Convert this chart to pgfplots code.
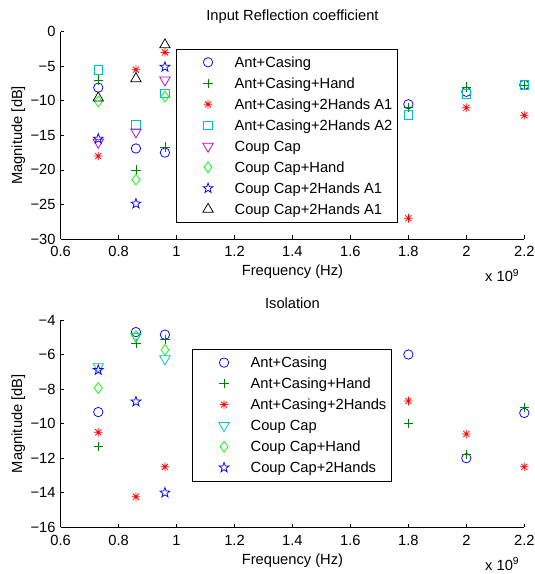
\documentclass[border=0pt]{standalone}
\usepackage{fontspec}
\setmainfont{Liberation Sans}
\usepackage{pgfplots}
\pgfplotsset{compat=1.18}
\definecolor{mblue}{rgb}{0,0,1}
\definecolor{mgreen}{rgb}{0,0.5,0}
\definecolor{mred}{rgb}{1,0,0}
\definecolor{mcyan}{rgb}{0,0.75,0.75}
\definecolor{mmag}{rgb}{0.75,0,0.75}
\definecolor{mlime}{rgb}{0,1,0}
\pgfdeclareplotmark{mstar}{%
  \pgfpathmoveto{\pgfqpoint{\pgfplotmarksize}{0pt}}\pgfpathlineto{\pgfqpoint{-\pgfplotmarksize}{0pt}}%
  \pgfpathmoveto{\pgfqpoint{0pt}{\pgfplotmarksize}}\pgfpathlineto{\pgfqpoint{0pt}{-\pgfplotmarksize}}%
  \pgfpathmoveto{\pgfqpointpolar{45}{\pgfplotmarksize}}\pgfpathlineto{\pgfqpointpolar{225}{\pgfplotmarksize}}%
  \pgfpathmoveto{\pgfqpointpolar{135}{\pgfplotmarksize}}\pgfpathlineto{\pgfqpointpolar{315}{\pgfplotmarksize}}%
  \pgfusepathqstroke}
\pgfdeclareplotmark{pent}{%
  \pgfpathmoveto{\pgfqpointpolar{90}{\pgfplotmarksize}}%
  \pgfpathlineto{\pgfqpointpolar{126}{0.4\pgfplotmarksize}}%
  \pgfpathlineto{\pgfqpointpolar{162}{\pgfplotmarksize}}%
  \pgfpathlineto{\pgfqpointpolar{198}{0.4\pgfplotmarksize}}%
  \pgfpathlineto{\pgfqpointpolar{234}{\pgfplotmarksize}}%
  \pgfpathlineto{\pgfqpointpolar{270}{0.4\pgfplotmarksize}}%
  \pgfpathlineto{\pgfqpointpolar{306}{\pgfplotmarksize}}%
  \pgfpathlineto{\pgfqpointpolar{342}{0.4\pgfplotmarksize}}%
  \pgfpathlineto{\pgfqpointpolar{18}{\pgfplotmarksize}}%
  \pgfpathlineto{\pgfqpointpolar{54}{0.4\pgfplotmarksize}}%
  \pgfpathclose\pgfusepathqstroke}
\pgfplotsset{
  mstyle/.style={
    scale only axis, width=463.7bp, height=207.3bp,
    axis x line=bottom, axis y line=left, axis line style={-, line width=0.7bp},
    tick align=inside, major tick length=3.5bp, tick style={line width=0.6bp, black},
    xmin=0.6, xmax=2.2,
    xtick={0.6,0.8,1,1.2,1.4,1.6,1.8,2,2.2},
    xticklabels={0.6,0.8,1,1.2,1.4,1.6,1.8,2,2.2},
    xticklabel style={anchor=base, yshift=-17.7bp},
    clip=false,
    every axis plot/.append style={only marks, line width=0.75bp},
    every axis title/.style={at={(rel axis cs:0.5,1)}, anchor=base, yshift=11.3bp},
    every axis x label/.style={at={(rel axis cs:0.5,0)}, anchor=base, yshift=-37bp},
    every axis y label/.style={at={(rel axis cs:0,0.5)}, xshift=-38.6bp, rotate=90, anchor=base},
    xlabel={Frequency (Hz)}, ylabel={Magnitude [dB]},
    legend cell align=left,
    legend image code/.code={\path[draw=none, fill=none] (-29.7bp,0bp) -- (20bp,0bp); \draw[##1] plot coordinates {(0bp,0bp)};},
    legend style={draw=black, line width=0.7bp, fill=white, inner xsep=2bp, inner ysep=6bp,
      row sep=6.5bp, column sep=3.3bp,
      nodes={inner xsep=3.3bp, inner ysep=0bp, text height=12.5bp, text depth=2bp}},
    after end axis/.code={\node[anchor=base east] at (rel axis cs:1,0) [yshift=-42.7bp] {x 10\textsuperscript{9}};},
  },
  sAC/.style={mark=o, mblue, mark size=4.7bp},
  sACH/.style={mark=+, mgreen, mark size=4.6bp},
  sAC2/.style={mark=mstar, mred, mark size=4.3bp},
  sAC2B/.style={mark=square, mcyan, mark size=4.3bp},
  sCC/.style={mark=triangle, mark options={rotate=180}, mark size=6bp},
  sCCH/.style={mark=diamond, mlime, mark size=5.3bp},
  sCC2/.style={mark=pent, mblue, mark size=5.2bp},
  sCC2B/.style={mark=triangle, black, mark size=6bp},
}
\begin{document}
\fontsize{14.7bp}{17.6bp}\selectfont
\begin{tikzpicture}
\useasboundingbox (0,0) rectangle (535bp,574bp);
\begin{axis}[mstyle, at={(60.6bp,335bp)}, anchor=south west,
  ymin=-30, ymax=0, ytick={-30,-25,-20,-15,-10,-5,0},
  yticklabels={−30,−25,−20,−15,−10,−5,0},
  title={Input Reflection coefficient},
  legend style={at={(0.2489,0.918)}, anchor=north west}]
\addplot[sAC] coordinates {(0.73,-8.1)(0.86,-16.9)(0.96,-17.5)(1.8,-10.5)(2.0,-8.7)(2.2,-7.7)};
\addlegendentry{Ant+Casing}
\addplot[sACH] coordinates {(0.73,-7.0)(0.86,-20.0)(0.96,-16.7)(1.8,-11.0)(2.0,-8.0)(2.2,-7.7)};
\addlegendentry{Ant+Casing+Hand}
\addplot[sAC2] coordinates {(0.73,-18.0)(0.86,-5.5)(0.96,-3.0)(1.8,-27.0)(2.0,-11.0)(2.2,-12.1)};
\addlegendentry{Ant+Casing+2Hands A1}
\addplot[sAC2B] coordinates {(0.73,-5.5)(0.86,-13.5)(0.96,-8.9)(1.8,-12.0)(2.0,-9.0)(2.2,-7.7)};
\addlegendentry{Ant+Casing+2Hands A2}
\addplot[sCC, mmag] coordinates {(0.73,-16.0)(0.86,-14.5)(0.96,-7.0)};
\addlegendentry{Coup Cap}
\addplot[sCCH] coordinates {(0.73,-10.1)(0.86,-21.4)(0.96,-9.4)};
\addlegendentry{Coup Cap+Hand}
\addplot[sCC2] coordinates {(0.73,-15.5)(0.86,-24.9)(0.96,-5.1)};
\addlegendentry{Coup Cap+2Hands A1}
\addplot[sCC2B] coordinates {(0.73,-9.6)(0.86,-6.8)(0.96,-1.9)};
\addlegendentry{Coup Cap+2Hands A1}
\end{axis}
\begin{axis}[mstyle, at={(60.6bp,46.7bp)}, anchor=south west,
  ymin=-16, ymax=-4, ytick={-16,-14,-12,-10,-8,-6,-4},
  yticklabels={−16,−14,−12,−10,−8,−6,−4},
  title={Isolation},
  legend style={at={(0.2834,0.860)}, anchor=north west}]
\addplot[sAC] coordinates {(0.73,-9.33)(0.86,-4.7)(0.96,-4.85)(1.8,-6.0)(2.0,-12.0)(2.2,-9.38)};
\addlegendentry{Ant+Casing}
\addplot[sACH] coordinates {(0.73,-11.3)(0.86,-5.35)(0.96,-5.15)(1.8,-10.0)(2.0,-11.77)(2.2,-9.08)};
\addlegendentry{Ant+Casing+Hand}
\addplot[sAC2] coordinates {(0.73,-10.5)(0.86,-14.23)(0.96,-12.5)(1.8,-8.69)(2.0,-10.6)(2.2,-12.5)};
\addlegendentry{Ant+Casing+2Hands}
\addplot[sCC, mcyan] coordinates {(0.73,-6.7)(0.86,-4.95)(0.96,-6.25)};
\addlegendentry{Coup Cap}
\addplot[sCCH] coordinates {(0.73,-7.94)(0.86,-4.92)(0.96,-5.73)};
\addlegendentry{Coup Cap+Hand}
\addplot[sCC2] coordinates {(0.73,-6.9)(0.86,-8.73)(0.96,-14.0)};
\addlegendentry{Coup Cap+2Hands}
\end{axis}
\end{tikzpicture}
\end{document}
